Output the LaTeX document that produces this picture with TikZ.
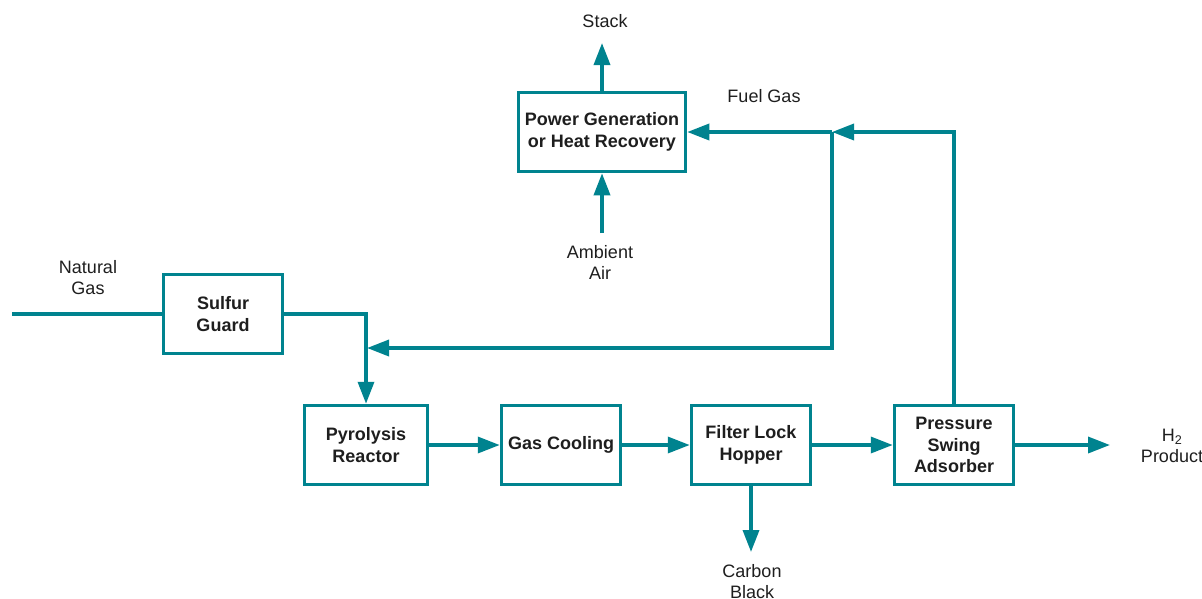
\documentclass[tikz,border=0pt]{standalone}
\usepackage{fontspec}
\setmainfont{Liberation Sans}
\usetikzlibrary{positioning,arrows.meta,calc}
\definecolor{flowteal}{RGB}{0, 131, 143}
\definecolor{labelgrey}{RGB}{30, 30, 30}

\begin{document}
\begin{tikzpicture}[x=1pt, y=-1pt,
    unitbox/.style={draw=flowteal, line width=3.5pt, fill=white, align=center,
      minimum width=119pt, minimum height=79pt, inner sep=1pt,
      text=labelgrey, font=\fontsize{18}{21.5}\selectfont\bfseries},
    streamlabel/.style={align=center, text=labelgrey, font=\fontsize{18}{21}\selectfont},
    streamline/.style={draw=flowteal, line width=3.5pt},
    stream/.style={streamline, -{Triangle[length=22pt, width=16pt]}}]
  \useasboundingbox (0,0) rectangle (1202,598);
  % Units
  \node[unitbox, minimum width=167pt] (pg) at (602,132) {Power Generation\\or Heat Recovery};
  \node[unitbox] (sg) at (223,314) {Sulfur\\Guard};
  \node[unitbox, minimum width=123pt] (pyr) at (366,445) {Pyrolysis\\Reactor};
  \node[unitbox] (gc) at (561,445) {Gas Cooling};
  \node[unitbox] (flh) at (751,445) {Filter Lock\\Hopper};
  \node[unitbox] (psa) at (954,445) {Pressure\\Swing\\Adsorber};
  % Stream labels
  \node[streamlabel] (stack) at (605,21) {Stack};
  \node[streamlabel] (fuel) at (764,96) {Fuel Gas};
  \node[streamlabel] (air) at (600,262) {Ambient\\Air};
  \node[streamlabel] (ng) at (88,278) {Natural\\Gas};
  \node[streamlabel] (cb) at (752,582) {Carbon\\Black};
  \node[streamlabel] (h2) at (1172,446) {H\textsubscript{2}\\Product};
  % Stream ends
  \coordinate (ngin) at (12,314);
  \coordinate (stacktip) at (602,43);
  \coordinate (airin) at (602,233);
  \coordinate (cbtip) at (751,552);
  \coordinate (h2tip) at (1110,445);
  \coordinate (split) at (832,132);
  \coordinate (merge) at (367,348);
  % Streams
  \draw[streamline] (ngin) -- (sg.west);
  \draw[stream] (sg.east) -| (pyr.north);
  \draw[stream] (pyr.east) -- (gc.west);
  \draw[stream] (gc.east) -- (flh.west);
  \draw[stream] (flh.east) -- (psa.west);
  \draw[stream] (psa.east) -- (h2tip);
  \draw[stream] (flh.south) -- (cbtip);
  \draw[stream] (pg.north) -- (stacktip);
  \draw[stream] (airin) -- (pg.south);
  % Fuel gas recycle
  \draw[stream] (split) -- (pg.east);
  \draw[stream] (split) |- (merge);
  \draw[stream] (psa.north) |- (split);
\end{tikzpicture}
\end{document}
